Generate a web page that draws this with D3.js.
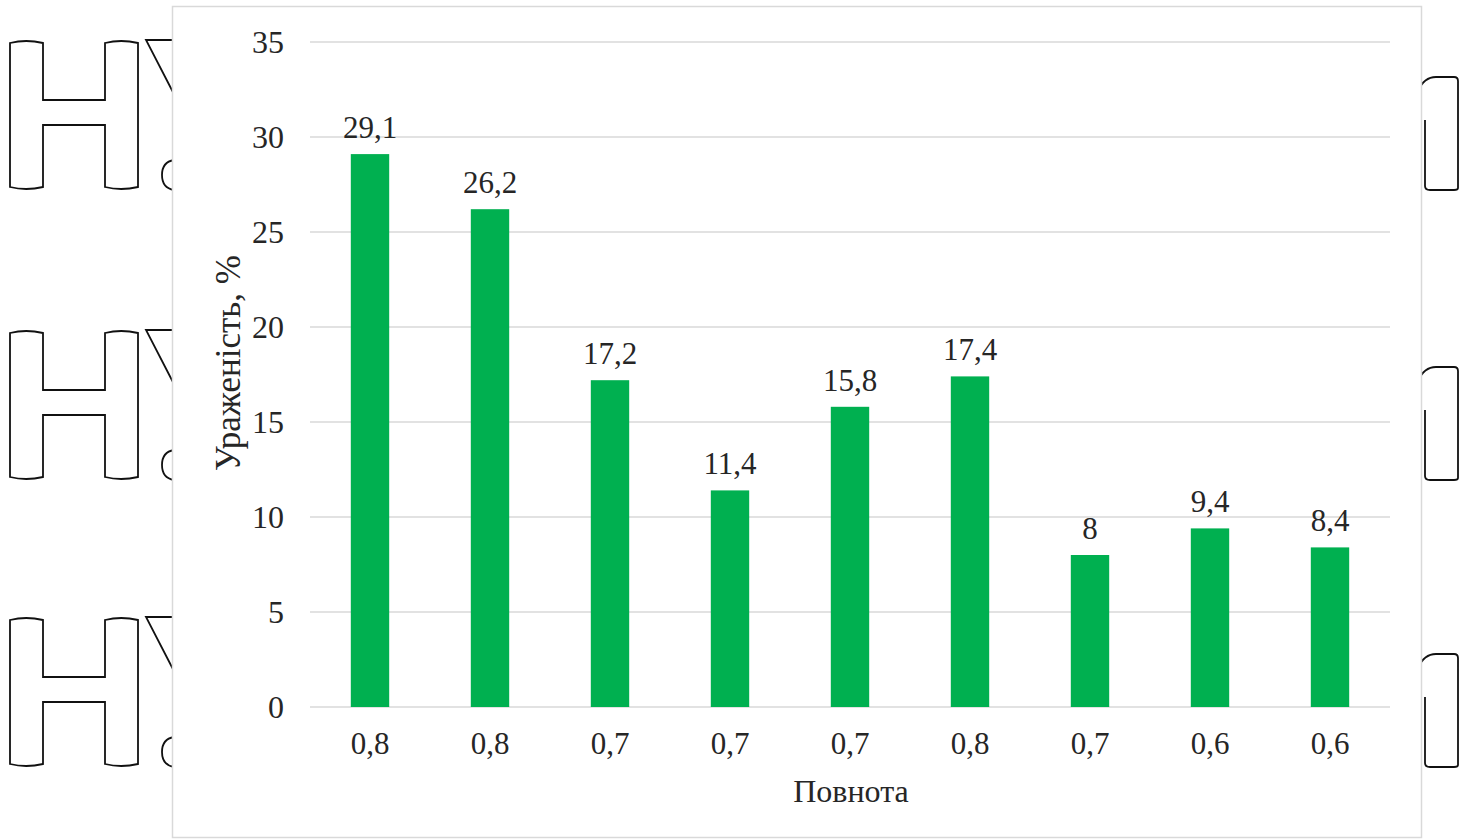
<!DOCTYPE html>
<html>
<head>
<meta charset="utf-8">
<script src="https://cdn.jsdelivr.net/npm/d3@7"></script>
<style>
  body { margin: 0; background: #fff; }
  svg { display: block; }
  text { font-family: "Liberation Serif", "Times New Roman", serif; }
</style>
</head>
<body>
<script>
// chart data
var categories = ['0,8', '0,8', '0,7', '0,7', '0,7', '0,8', '0,7', '0,6', '0,6'];
var values = [29.1, 26.2, 17.2, 11.4, 15.8, 17.4, 8, 9.4, 8.4];
var yTicks = [0, 5, 10, 15, 20, 25, 30, 35];
var yTitle = 'Ураженість, %';
var xTitle = 'Повнота';

var W = 1473, H = 839;
var textColor = '#262626';
var svg = d3.select('body').append('svg').attr('width', W).attr('height', H);

// watermark fragments behind the chart panel
var rows = [40, 330, 617];
var wm = svg.append('g').attr('fill', 'none').attr('stroke', '#111').attr('stroke-width', 1.8);
rows.forEach(function(t) {
  var b = t + 150;
  // outlined "H"
  wm.append('path').attr('d',
    'M10,' + (t + 3) + ' Q26,' + (t - 1) + ' 43,' + (t + 3) +
    ' V' + (t + 60) + ' H105 V' + (t + 3) + ' Q121,' + (t - 1) + ' 138,' + (t + 3) +
    ' V' + (b - 3) + ' Q121,' + (b + 1) + ' 105,' + (b - 3) +
    ' V' + (t + 85) + ' H43 V' + (b - 3) + ' Q26,' + (b + 1) + ' 10,' + (b - 3) + ' Z');
  // start of the next letter
  wm.append('path').attr('d', 'M175,' + t + ' H146 L176,' + (t + 58));
  wm.append('path').attr('d', 'M174,' + (t + 120) + ' Q162,' + (t + 122) + ' 162,' + (t + 135) +
    ' Q162,' + (t + 148) + ' 174,' + (t + 150));
  // right-hand fragment
  var rt = t + 37, rb = t + 150;
  wm.append('path').attr('d',
    'M1418,' + (rt + 14) + ' Q1424,' + rt + ' 1436,' + rt + ' H1454 Q1458,' + rt + ' 1458,' + (rt + 4) +
    ' V' + (rb - 2) + ' Q1458,' + rb + ' 1454,' + rb + ' H1430 Q1425,' + rb + ' 1425,' + (rb - 4) +
    ' V' + (rt + 43));
});

// chart panel
svg.append('rect')
  .attr('x', 172.5).attr('y', 6.5)
  .attr('width', 1421 - 172).attr('height', 837 - 6)
  .attr('fill', '#fff').attr('stroke', '#d9d9d9').attr('stroke-width', 1.5);

var margin = { left: 310, right: 1390, top: 42, bottom: 707 };

var x = d3.scaleBand()
  .domain(d3.range(categories.length))
  .range([margin.left, margin.right])
  .paddingInner(0.68).paddingOuter(0.34);

var y = d3.scaleLinear().domain([0, 35]).range([margin.bottom, margin.top]);

// gridlines
svg.append('g').selectAll('line').data(yTicks)
  .enter().append('line')
  .attr('x1', margin.left).attr('x2', margin.right)
  .attr('y1', function(d) { return y(d); })
  .attr('y2', function(d) { return y(d); })
  .attr('stroke', '#d9d9d9').attr('stroke-width', 1.5);

// y axis labels
var yAxis = d3.axisLeft(y).tickValues(yTicks).tickSize(0).tickPadding(0);
var gy = svg.append('g').attr('transform', 'translate(284,0)').call(yAxis);
gy.select('.domain').remove();
gy.selectAll('text')
  .attr('font-family', '"Liberation Serif", serif')
  .attr('font-size', 32).attr('fill', textColor);

// x axis labels
var xAxis = d3.axisBottom(x).tickFormat(function(i) { return categories[i]; }).tickSize(0).tickPadding(0);
var gx = svg.append('g').attr('transform', 'translate(0,' + (margin.bottom + 25) + ')').call(xAxis);
gx.select('.domain').remove();
gx.selectAll('text')
  .attr('font-family', '"Liberation Serif", serif')
  .attr('font-size', 31).attr('fill', textColor);

// bars
svg.append('g').selectAll('rect').data(values)
  .enter().append('rect')
  .attr('x', function(d, i) { return x(i); })
  .attr('y', function(d) { return y(d); })
  .attr('width', x.bandwidth())
  .attr('height', function(d) { return y(0) - y(d); })
  .attr('fill', '#00b050');

// value labels
svg.append('g').selectAll('text').data(values)
  .enter().append('text')
  .attr('x', function(d, i) { return x(i) + x.bandwidth() / 2; })
  .attr('y', function(d) { return y(d) - 16; })
  .attr('text-anchor', 'middle')
  .attr('font-size', 31).attr('fill', textColor)
  .text(function(d) { return String(d).replace('.', ','); });

// axis titles
svg.append('text')
  .attr('transform', 'translate(240,' + 363 + ') rotate(-90)')
  .attr('text-anchor', 'middle')
  .attr('font-size', 35).attr('fill', textColor)
  .text(yTitle);

svg.append('text')
  .attr('x', (margin.left + margin.right) / 2 + 1).attr('y', 802)
  .attr('text-anchor', 'middle')
  .attr('font-size', 32).attr('fill', textColor)
  .text(xTitle);
</script>
</body>
</html>
